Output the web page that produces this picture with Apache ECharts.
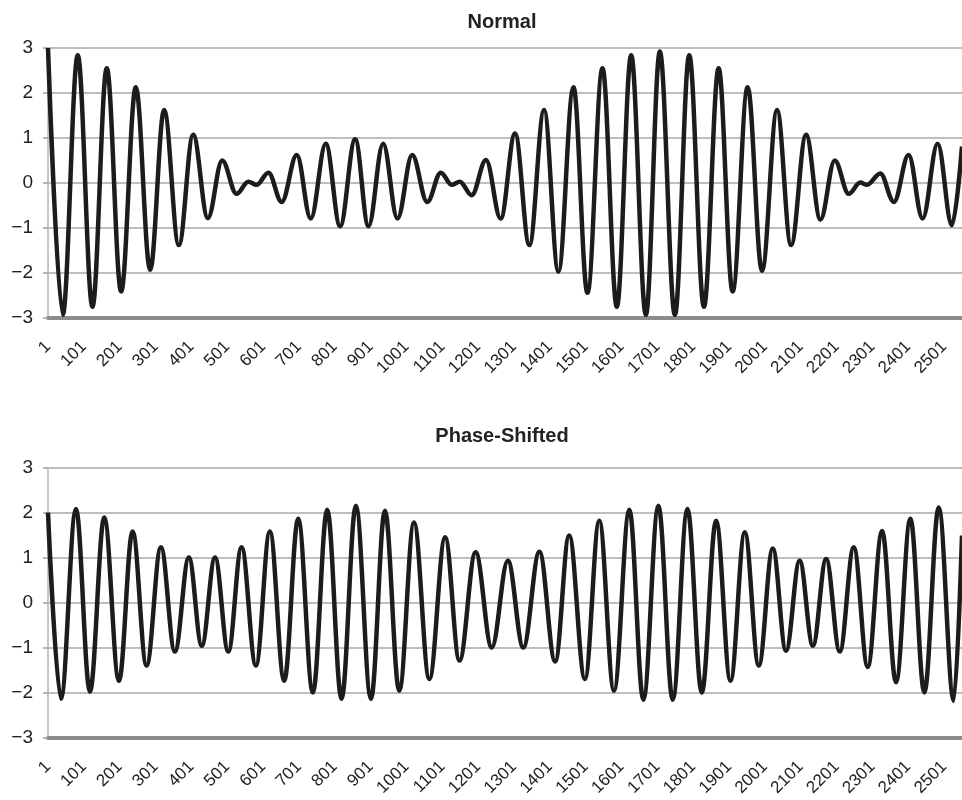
<!DOCTYPE html>
<html>
<head>
<meta charset="utf-8">
<script src="https://cdn.jsdelivr.net/npm/echarts@6/dist/echarts.min.js"></script>
<style>html,body{margin:0;padding:0;background:#fff}#c{width:962px;height:800px}</style>
</head>
<body>
<div id="c"></div>
<script>
// Tick labels
const xTickLabels = ['1','101','201','301','401','501','601','701','801','901','1001','1101','1201','1301','1401','1501','1601','1701','1801','1901','2001','2101','2201','2301','2401','2501'];
const yTickLabels = ['\u22123','\u22122','\u22121','0','1','2','3'];
const titles = ['Normal', 'Phase-Shifted'];

// "Normal" panel: turning points (x = sample index - 1)
const normalX = [0,41,83,124,164,204,245,285,324,365,405,446,486,526,559,582,615,652,694,733,775,815,857,894,935,975,1016,1058,1096,1126,1149,1182,1222,1263,1303,1343,1384,1424,1466,1505,1547,1587,1627,1668,1707,1749,1789,1830,1871,1910,1952,1992,2034,2073,2115,2155,2195,2234,2266,2285,2322,2360,2401,2440,2482,2522,2550];
const normalY = [3.0,-2.93,2.84,-2.75,2.55,-2.41,2.13,-1.93,1.62,-1.38,1.07,-0.78,0.50,-0.24,0.03,-0.04,0.23,-0.42,0.62,-0.79,0.87,-0.96,0.97,-0.96,0.87,-0.79,0.62,-0.42,0.23,-0.04,0.03,-0.27,0.51,-0.79,1.10,-1.38,1.62,-1.97,2.13,-2.44,2.55,-2.75,2.84,-2.93,2.92,-2.93,2.84,-2.75,2.55,-2.41,2.13,-1.95,1.62,-1.38,1.07,-0.81,0.50,-0.24,0.01,-0.04,0.21,-0.42,0.62,-0.79,0.87,-0.94,0.81];

// "Phase-Shifted" panel
const shiftedX = [0,36,78,117,157,198,236,275,315,354,393,429,466,503,540,580,619,659,698,739,779,819,859,901,940,980,1021,1064,1108,1148,1193,1238,1283,1326,1371,1415,1454,1498,1538,1579,1622,1661,1703,1743,1784,1824,1864,1904,1944,1983,2022,2059,2097,2134,2171,2209,2248,2287,2327,2366,2406,2445,2485,2527,2550];
const shiftedY = [2.01,-2.13,2.09,-1.97,1.90,-1.73,1.59,-1.39,1.24,-1.08,1.01,-0.95,1.01,-1.08,1.24,-1.39,1.59,-1.73,1.87,-1.99,2.07,-2.13,2.16,-2.13,2.05,-1.95,1.79,-1.69,1.46,-1.28,1.13,-0.99,0.94,-0.99,1.14,-1.30,1.50,-1.69,1.83,-1.95,2.07,-2.15,2.16,-2.15,2.09,-1.99,1.83,-1.73,1.57,-1.39,1.21,-1.06,0.94,-0.95,0.98,-1.08,1.24,-1.42,1.60,-1.76,1.87,-1.99,2.12,-2.17,1.5];

const FONT = "'Liberation Sans', Arial, Helvetica, sans-serif";
const pairs = (xs, ys) => xs.map((x, i) => [x, ys[i]]);

function xAxisCfg(gi) {
  return {
    gridIndex: gi, type: 'value', min: 0, max: 2550, interval: 100,
    axisLine: { show: true, onZero: false, lineStyle: { color: '#8c8c8c', width: 4 } },
    axisTick: { show: false },
    splitLine: { show: false },
    axisLabel: {
      rotate: 45, margin: 26, fontSize: 17, color: '#222', fontFamily: FONT,
      showMaxLabel: false,
      formatter: v => (v % 100 === 0 && xTickLabels[v / 100] !== undefined) ? xTickLabels[v / 100] : ''
    }
  };
}
function yAxisCfg(gi) {
  return {
    gridIndex: gi, type: 'value', min: -3, max: 3, interval: 1,
    axisLine: { show: true, lineStyle: { color: '#b4b4b4', width: 1.5 } },
    axisTick: { show: true, length: 5, lineStyle: { color: '#a0a0a0', width: 1.5 } },
    splitLine: { show: true, lineStyle: { color: '#a8a8a8', width: 1.5 } },
    axisLabel: {
      margin: 15, fontSize: 19, color: '#222', fontFamily: FONT,
      formatter: v => yTickLabels[Math.round(v) + 3]
    }
  };
}
function seriesCfg(gi, data) {
  return {
    type: 'line', xAxisIndex: gi, yAxisIndex: gi, data: data,
    showSymbol: false, smooth: 0.36, smoothMonotone: 'x', clip: true,
    lineStyle: { color: '#1c1c1c', width: 4.5 }, animation: false, z: 3
  };
}

const chart = echarts.init(document.getElementById('c'), null, { renderer: 'canvas' });
chart.setOption({
  animation: false,
  backgroundColor: '#fff',
  title: [
    { text: titles[0], left: 497, top: 7, textAlign: 'center',
      textStyle: { fontSize: 20, fontWeight: 'bold', color: '#222', fontFamily: FONT } },
    { text: titles[1], left: 497, top: 421, textAlign: 'center',
      textStyle: { fontSize: 20, fontWeight: 'bold', color: '#222', fontFamily: FONT } }
  ],
  grid: [
    { left: 48, right: 0, top: 48, height: 270 },
    { left: 48, right: 0, top: 468, height: 270 }
  ],
  xAxis: [xAxisCfg(0), xAxisCfg(1)],
  yAxis: [yAxisCfg(0), yAxisCfg(1)],
  series: [seriesCfg(0, pairs(normalX, normalY)), seriesCfg(1, pairs(shiftedX, shiftedY))]
});
</script>
</body>
</html>
